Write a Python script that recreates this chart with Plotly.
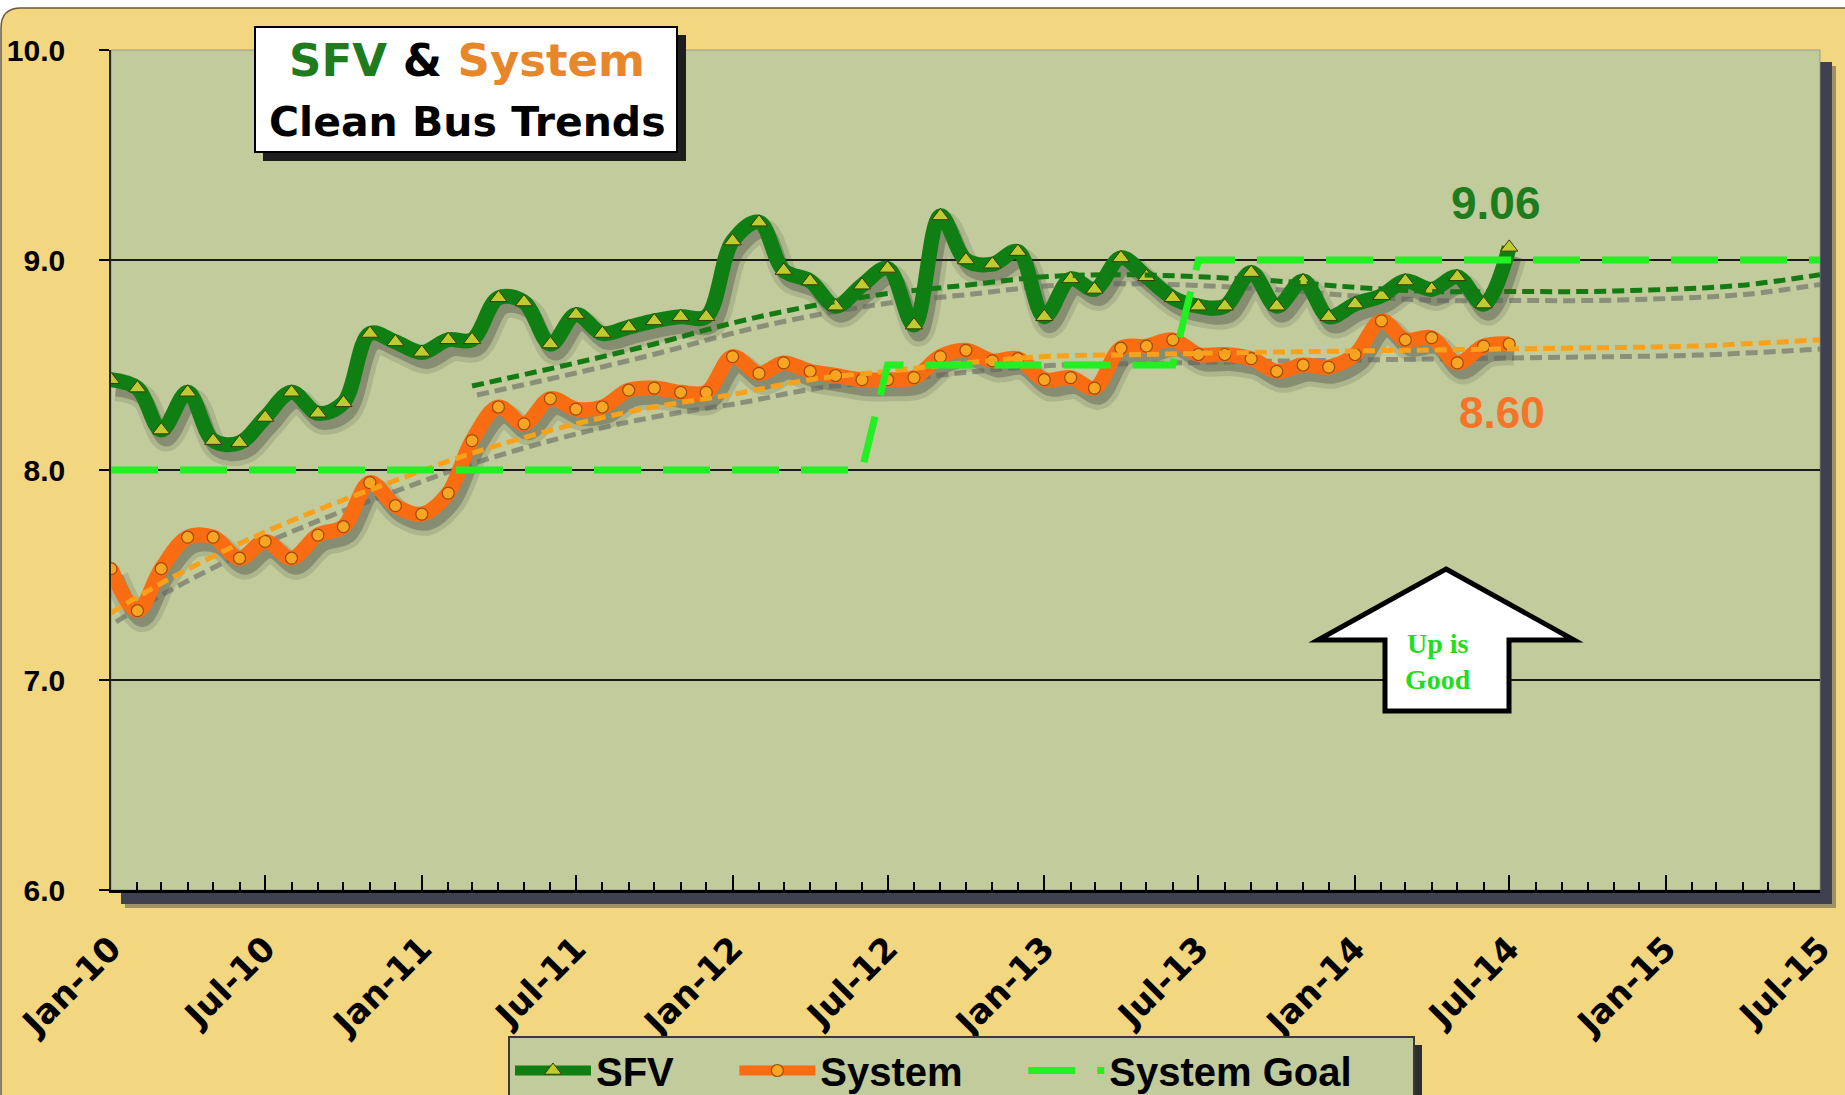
import plotly.graph_objects as go
import pandas as pd

# ---------------- data ----------------
months = ["2010-01", "2010-02", "2010-03", "2010-04", "2010-05", "2010-06",
          "2010-07", "2010-08", "2010-09", "2010-10", "2010-11", "2010-12",
          "2011-01", "2011-02", "2011-03", "2011-04", "2011-05", "2011-06",
          "2011-07", "2011-08", "2011-09", "2011-10", "2011-11", "2011-12",
          "2012-01", "2012-02", "2012-03", "2012-04", "2012-05", "2012-06",
          "2012-07", "2012-08", "2012-09", "2012-10", "2012-11", "2012-12",
          "2013-01", "2013-02", "2013-03", "2013-04", "2013-05", "2013-06",
          "2013-07", "2013-08", "2013-09", "2013-10", "2013-11", "2013-12",
          "2014-01", "2014-02", "2014-03", "2014-04", "2014-05", "2014-06",
          "2014-07"]

sfv = [8.43, 8.39, 8.19, 8.37, 8.14, 8.13, 8.25, 8.37, 8.27, 8.32, 8.65, 8.61,
       8.56, 8.62, 8.62, 8.82, 8.80, 8.60, 8.74, 8.65, 8.68, 8.71, 8.73, 8.73,
       9.09, 9.18, 8.95, 8.90, 8.78, 8.88, 8.96, 8.69, 9.21, 9.00, 8.98, 9.04,
       8.73, 8.91, 8.86, 9.01, 8.92, 8.82, 8.78, 8.78, 8.94, 8.78, 8.90, 8.73,
       8.79, 8.83, 8.90, 8.86, 8.92, 8.79, 9.06]

system = [7.53, 7.33, 7.53, 7.68, 7.68, 7.58, 7.66, 7.58, 7.69, 7.73, 7.94, 7.83,
          7.79, 7.89, 8.14, 8.30, 8.22, 8.34, 8.29, 8.30, 8.38, 8.39, 8.37, 8.37,
          8.54, 8.46, 8.51, 8.47, 8.45, 8.43, 8.43, 8.44, 8.54, 8.57, 8.52, 8.53,
          8.43, 8.44, 8.39, 8.58, 8.59, 8.62, 8.55, 8.55, 8.53, 8.47, 8.50, 8.49,
          8.55, 8.71, 8.62, 8.63, 8.51, 8.59, 8.60]

goal_dates = ["2010-01", "2012-06", "2012-07", "2013-06", "2013-07", "2015-07"]
goal_vals = [8.0, 8.0, 8.5, 8.5, 9.0, 9.0]

sfv_trend_dates = ["2011-03", "2011-07", "2011-10", "2012-01", "2012-04", "2012-07",
                   "2012-10", "2013-01", "2013-04", "2013-07", "2013-10", "2014-01",
                   "2014-04", "2014-07", "2014-10", "2015-01", "2015-04", "2015-07"]
sfv_trend_vals = [8.40, 8.51, 8.60, 8.70, 8.78, 8.84,
                  8.88, 8.92, 8.93, 8.92, 8.90, 8.87,
                  8.85, 8.85, 8.85, 8.86, 8.88, 8.93]

sys_trend_dates = ["2010-01", "2010-03", "2010-06", "2010-09", "2010-12", "2011-03",
                   "2011-07", "2011-10", "2012-01", "2012-04", "2012-07", "2012-10",
                   "2013-01", "2013-05", "2013-09", "2014-03", "2014-09", "2015-02",
                   "2015-07"]
sys_trend_vals = [7.32, 7.46, 7.65, 7.81, 7.95, 8.08,
                  8.22, 8.30, 8.36, 8.43, 8.47, 8.51,
                  8.54, 8.55, 8.56, 8.57, 8.58, 8.59,
                  8.62]

x_range = ["2010-01-01", "2015-07-01"]
y_range = [6.0, 10.0]
series_names = ["SFV", "System", "System Goal"]

# ---------------- style ----------------
W, H = 1845, 1095
ML, MR, MT, MB = 111, 25, 50, 205
PW = W - ML - MR
PH = H - MT - MB

PAPER = "#F3D680"
PLOT = "#C1CB9B"
SFV_COLOR = "#0F7F14"
SFV_MARKER = "#BFCB2E"
SYS_COLOR = "#FA6C12"
SYS_MARKER = "#F6A623"
GOAL_COLOR = "#22F022"
SFV_TREND = "#147A14"
SYS_TREND = "#F9A11B"


def px(x):
    return (x - ML) / PW


def py(y):
    return (H - MB - y) / PH


# shadow offset (pixels) realised by a shifted copy of the axes
SH_X, SH_Y = 5, 9
days_span = (pd.Timestamp(x_range[1]) - pd.Timestamp(x_range[0])).days
dshift = pd.Timedelta(days=SH_X * days_span / PW)
vshift = SH_Y * (y_range[1] - y_range[0]) / PH
shadow_xrange = [str(pd.Timestamp(x_range[0]) - dshift), str(pd.Timestamp(x_range[1]) - dshift)]
shadow_yrange = [y_range[0] + vshift, y_range[1] + vshift]

fig = go.Figure()

# ---- shadows (base axes x/y, shifted) ----
for xs, ys in [(months, sfv), (months, system)]:
    fig.add_trace(go.Scatter(x=xs, y=ys, mode="lines", xaxis="x", yaxis="y",
                             line=dict(color="rgba(50,50,50,0.14)", width=25, shape="spline"),
                             showlegend=False, hoverinfo="skip"))
    fig.add_trace(go.Scatter(x=xs, y=ys, mode="lines", xaxis="x", yaxis="y",
                             line=dict(color="rgba(50,50,50,0.30)", width=15, shape="spline"),
                             showlegend=False, hoverinfo="skip"))
for xs, ys in [(sfv_trend_dates, sfv_trend_vals), (sys_trend_dates, sys_trend_vals)]:
    fig.add_trace(go.Scatter(x=xs, y=ys, mode="lines", xaxis="x", yaxis="y",
                             line=dict(color="rgba(95,95,95,0.55)", width=5, shape="spline",
                                       dash="12px,6px"),
                             showlegend=False, hoverinfo="skip"))

# ---- main series (overlay axes x2/y2) ----
PAD = "\u00a0" * 5
fig.add_trace(go.Scatter(
    x=months, y=sfv, name=series_names[0] + PAD, mode="lines+markers", xaxis="x2", yaxis="y2",
    line=dict(color=SFV_COLOR, width=15, shape="spline", smoothing=1.0),
    marker=dict(symbol="triangle-up", size=15, color=SFV_MARKER,
                line=dict(color="#3A3A00", width=1))))
fig.add_trace(go.Scatter(
    x=months, y=system, name=series_names[1] + PAD, mode="lines+markers", xaxis="x2", yaxis="y2",
    line=dict(color=SYS_COLOR, width=15, shape="spline", smoothing=1.0),
    marker=dict(symbol="circle", size=12, color=SYS_MARKER,
                line=dict(color="#A04A00", width=1.2))))
fig.add_trace(go.Scatter(
    x=sfv_trend_dates, y=sfv_trend_vals, mode="lines", xaxis="x2", yaxis="y2",
    line=dict(color=SFV_TREND, width=5, shape="spline", dash="12px,6px"),
    showlegend=False, hoverinfo="skip"))
fig.add_trace(go.Scatter(
    x=sys_trend_dates, y=sys_trend_vals, mode="lines", xaxis="x2", yaxis="y2",
    line=dict(color=SYS_TREND, width=5, shape="spline", dash="12px,6px"),
    showlegend=False, hoverinfo="skip"))
fig.add_trace(go.Scatter(
    x=goal_dates, y=goal_vals, name=series_names[2] + PAD, mode="lines", xaxis="x2", yaxis="y2",
    line=dict(color=GOAL_COLOR, width=7, dash="47px,22px")))

# ---------------- shapes ----------------
shapes = []
r = 20
outer = (f"M {px(1)} {py(1100)} L {px(1)} {py(8 + r)} "
         f"Q {px(1)} {py(8)} {px(1 + r)} {py(8)} "
         f"L {px(1850)} {py(8)} L {px(1850)} {py(1100)} Z")
shapes.append(dict(type="path", path=outer, xref="paper", yref="paper", layer="below",
                   fillcolor=PAPER, line=dict(color="#6B5A3A", width=1.5)))
shapes.append(dict(type="rect", xref="paper", yref="paper", layer="below",
                   x0=px(ML + 14), x1=px(ML + PW + 16), y0=py(MT + PH + 18), y1=py(MT + 16),
                   fillcolor="rgba(60,60,72,0.45)", line=dict(width=0)))
shapes.append(dict(type="rect", xref="paper", yref="paper", layer="below",
                   x0=px(ML + 10), x1=px(ML + PW + 12), y0=py(MT + PH + 14), y1=py(MT + 12),
                   fillcolor="#3F4150", line=dict(width=0)))
shapes.append(dict(type="rect", xref="paper", yref="paper", layer="below",
                   x0=0, x1=1, y0=0, y1=1, fillcolor=PLOT,
                   line=dict(color="rgba(140,140,140,0.8)", width=1)))
# title box with shadow
shapes.append(dict(type="rect", xref="paper", yref="paper", layer="above",
                   x0=px(263), x1=px(686), y0=py(161), y1=py(35),
                   fillcolor="#1E1E1E", line=dict(width=0)))
shapes.append(dict(type="rect", xref="paper", yref="paper", layer="above",
                   x0=px(255), x1=px(677), y0=py(152), y1=py(27),
                   fillcolor="white", line=dict(color="black", width=2)))
# "Up is Good" arrow
arrow = (f"M {px(1446)} {py(569)} L {px(1574)} {py(640)} L {px(1509)} {py(640)} "
         f"L {px(1509)} {py(711)} L {px(1385)} {py(711)} L {px(1385)} {py(640)} "
         f"L {px(1318)} {py(640)} Z")
shapes.append(dict(type="path", path=arrow, xref="paper", yref="paper", layer="above",
                   fillcolor="white", line=dict(color="black", width=5)))
# legend shadow (right/bottom edge of the legend box)
LEG_L, LEG_R, LEG_T = 508, 1412, 1036
shapes.append(dict(type="rect", xref="paper", yref="paper", layer="above",
                   x0=px(LEG_L + 10), x1=px(LEG_R + 10), y0=py(1120), y1=py(LEG_T + 9),
                   fillcolor="#2E2E2E", line=dict(width=0)))

# ---------------- annotations ----------------
annotations = [
    dict(xref="paper", yref="paper", x=px(467), y=py(61), showarrow=False,
         xanchor="center", yanchor="middle",
         text="<span style='color:#1E7B1E'>SFV</span> &amp; <span style='color:#E8862A'>System</span>",
         font=dict(family="DejaVu Sans", size=45, color="black", weight="bold")),
    dict(xref="paper", yref="paper", x=px(467), y=py(122), showarrow=False,
         xanchor="center", yanchor="middle", text="Clean Bus Trends",
         font=dict(family="DejaVu Sans", size=41, color="black", weight="bold")),
    dict(xref="x2", yref="y2", x=months[-1], y=sfv[-1], showarrow=False,
         xshift=-13, yshift=44, text=f"{sfv[-1]:.2f}",
         font=dict(family="Liberation Sans", size=46, color="#1D7D1D", weight="bold")),
    dict(xref="x2", yref="y2", x=months[-1], y=system[-1], showarrow=False,
         xshift=-7, yshift=-68, text=f"{system[-1]:.2f}",
         font=dict(family="Liberation Sans", size=44, color="#F5742A", weight="bold")),
    dict(xref="paper", yref="paper", x=px(1438), y=py(661), showarrow=False,
         xanchor="center", yanchor="middle", text="Up is<br>Good",
         font=dict(family="Liberation Serif", size=28, color="#22DD22", weight="bold")),
]

fig.update_layout(
    width=W, height=H,
    margin=dict(l=ML, r=MR, t=MT, b=MB, pad=0, autoexpand=False),
    paper_bgcolor="white",
    plot_bgcolor="rgba(0,0,0,0)",
    shapes=shapes,
    annotations=annotations,
    showlegend=True,
    legend=dict(orientation="h", xref="container", yref="container",
                x=LEG_L / W, xanchor="left", y=1 - LEG_T / H, yanchor="top",
                bgcolor=PLOT, bordercolor="#3A3A3A", borderwidth=2,
                font=dict(family="Liberation Sans", size=40, color="black", weight="bold"),
                itemwidth=76, traceorder="normal"),
    xaxis=dict(type="date", range=shadow_xrange, visible=False, fixedrange=True),
    yaxis=dict(range=shadow_yrange, visible=False, fixedrange=True),
    xaxis2=dict(type="date", overlaying="x", anchor="y2", side="bottom",
                range=x_range, tick0="2010-01-01", dtick="M6", tickformat="%b-%y",
                ticks="inside", ticklen=15, tickwidth=1.5, tickcolor="black",
                minor=dict(dtick="M1", ticks="inside", ticklen=8, tickwidth=1.5,
                           tickcolor="black", showgrid=False),
                showline=True, linecolor="black", linewidth=3, showgrid=False,
                zeroline=False, tickangle=-45, ticklabelstandoff=22,
                tickfont=dict(family="DejaVu Sans", size=34, color="black", weight="bold")),
    yaxis2=dict(overlaying="y", anchor="x2", side="left", range=y_range, dtick=1.0,
                tick0=6, tickformat=".1f", ticks="outside", ticklen=10, tickwidth=1.5,
                tickcolor="black", showline=True, linecolor="#222222", linewidth=1.5,
                showgrid=True, gridcolor="#1A1A1A", gridwidth=1.5, zeroline=False,
                ticklabelstandoff=28,
                tickfont=dict(family="Liberation Sans", size=30, color="black", weight="bold")),
)

fig.write_html("out.html", config={"displayModeBar": False},
               post_script="document.body.style.margin='0';")
